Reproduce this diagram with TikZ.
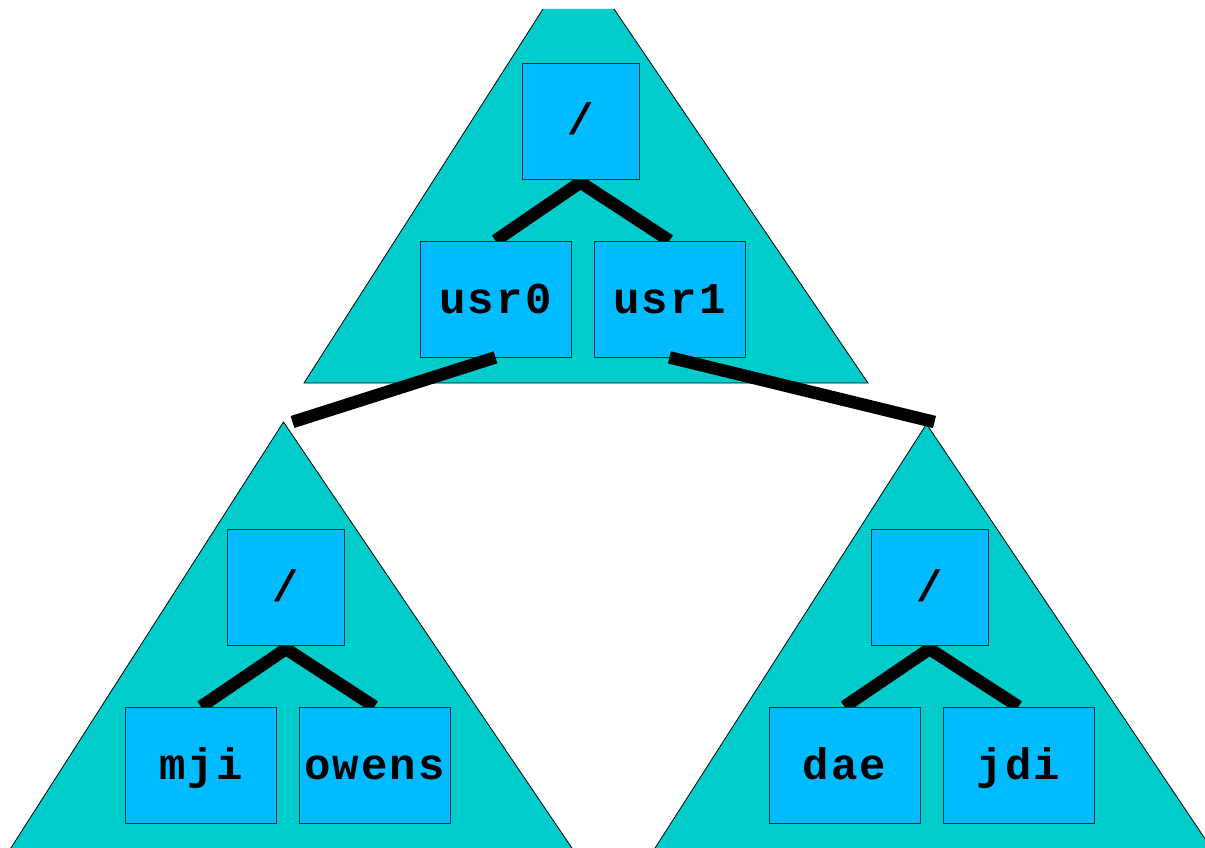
\documentclass[tikz,border=0pt]{standalone}
\usepackage{fontspec}
\newfontfamily\treefont[LetterSpace=5]{Liberation Mono}
\definecolor{volfill}{RGB}{0,204,204}
\definecolor{boxfill}{RGB}{0,187,255}
\definecolor{boxline}{RGB}{16,48,64}
\pgfdeclarelayer{back}
\pgfsetlayers{back,main}
\begin{document}
\begin{tikzpicture}[x=1pt,y=-1pt,
  dirbox/.style={draw=boxline, line width=0.8pt, fill=boxfill, inner sep=0pt,
    minimum height=116pt, text height=28pt, text depth=0pt,
    font=\treefont\bfseries\fontsize{44}{44}\selectfont},
  rootbox/.style={dirbox, minimum width=117pt},
  leafbox/.style={dirbox, minimum width=151pt},
  branch/.style={line width=12.5pt, line join=miter},
  mountlink/.style={line width=12.5pt},
  volume/.style={fill=volfill},
  rim/.style={draw=black, line width=0.8pt}]
\useasboundingbox (0,0) rectangle (1205,848);
\clip (0,0) rectangle (1205,848);

% directory boxes
\node[rootbox] (root)  at (580.5,121) {/};
\node[leafbox] (usr0)  at (495.5,299) {usr0};
\node[leafbox] (usr1)  at (669.5,299) {usr1};
\node[rootbox] (lroot) at (286,587.5) {/};
\node[leafbox] (mji)   at (201,765) {mji};
\node[leafbox] (owens) at (374.5,765) {owens};
\node[rootbox] (rroot) at (929.5,587.5) {/};
\node[leafbox] (dae)   at (844.5,765) {dae};
\node[leafbox] (jdi)   at (1018.5,765) {jdi};

\begin{pgfonlayer}{back}
  % file system volumes
  \fill[volume] (304,383) -- (543,9) -- (614,9) -- (868,383) -- cycle;
  \draw[rim] (543,9) -- (304,383) -- (868,383) -- (614,9);
  \coordinate (lapex) at (283.5,422);
  \coordinate (rapex) at (926.5,424);
  \filldraw[volume, rim] (lapex) -- (-3.2,870) -- (586.8,870) -- cycle;
  \filldraw[volume, rim] (rapex) -- (641,870) -- (1226,870) -- cycle;
  % tree branches beneath the boxes
  \draw[branch] (usr0.north) -- ([yshift=-3pt]root.south) -- (usr1.north);
  \draw[branch] (mji.north) -- ([yshift=-3pt]lroot.south) -- (owens.north);
  \draw[branch] (dae.north) -- ([yshift=-3pt]rroot.south) -- (jdi.north);
\end{pgfonlayer}

% mount points joining the volumes
\coordinate (lmount) at (292.5,422);
\coordinate (rmount) at (934.5,422);
\draw[mountlink] (usr0.south) -- (lmount);
\draw[mountlink] (usr1.south) -- (rmount);
\end{tikzpicture}
\end{document}
